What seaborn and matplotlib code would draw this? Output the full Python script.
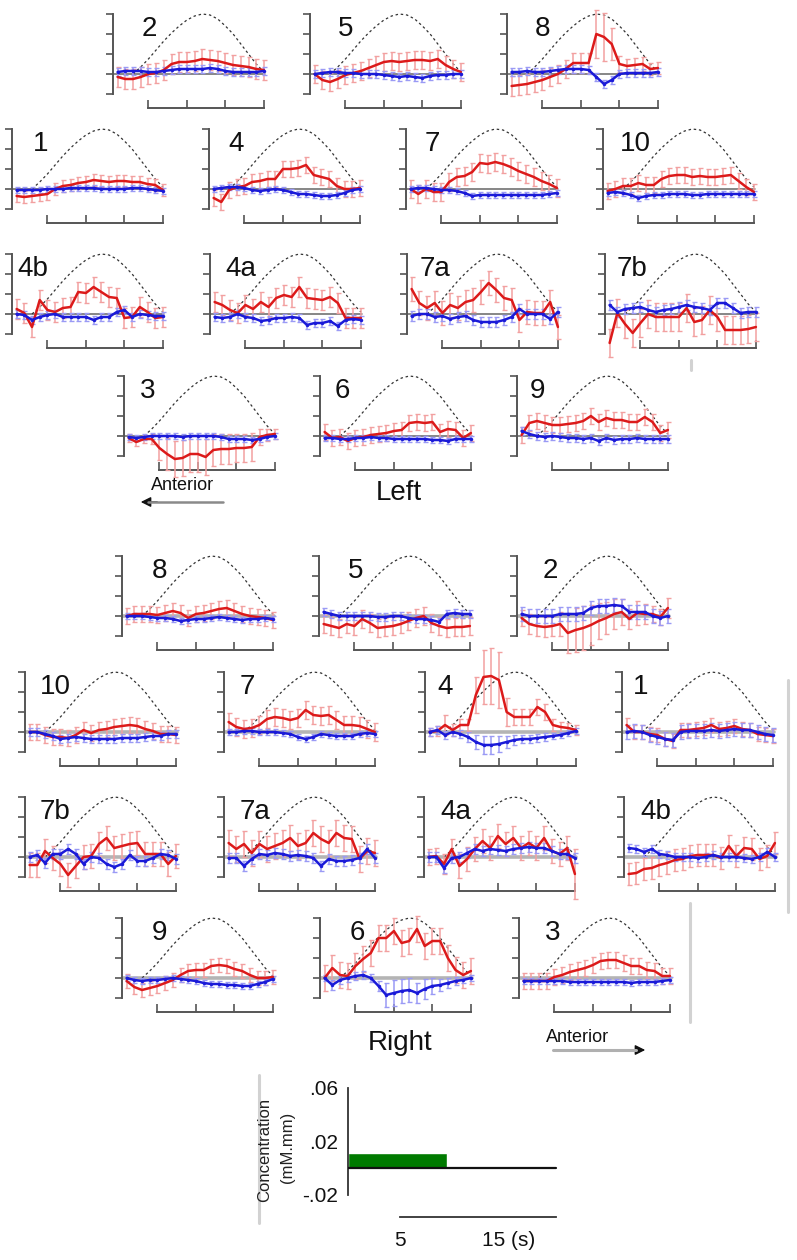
import numpy as np
import matplotlib
matplotlib.use("Agg")
import matplotlib.pyplot as plt
from matplotlib.lines import Line2D
import seaborn as sns

# ---------------- data (values in 0.001 mM.mm) ----------------
t = list(range(1, 21))
dash_t = list(range(3, 21))
dash_v = [0, 7, 15, 24, 33, 41, 48, 54, 58, 60, 59, 55, 48, 40, 30, 20, 10, 2]

# Left hemisphere
red_L2 = [-3, -5, -5, -3, 0, 1, 4, 10, 12, 12, 13, 15, 14, 13, 11, 9, 8, 7, 5, 4]
blue_L2 = [2, 3, 3, 3, 2, 2, 3, 4, 5, 5, 5, 5, 6, 5, 3, 2, 2, 2, 2, 3]
red_L5 = [0, -6, -8, -5, -1, 1, 3, 6, 9, 12, 13, 12, 13, 14, 14, 13, 15, 9, 5, 2]
blue_L5 = [0, 1, 2, 2, 1, 1, 0, 0, 0, -1, -2, -3, -2, -3, -4, -2, -1, -1, 0, 0]
red_L8 = [-12, -11, -10, -8, -6, -3, 0, 5, 11, 11, 11, 40, 37, 30, 10, 8, 9, 10, 5, 6]
blue_L8 = [2, 2, 3, 2, 2, 3, 4, 5, 5, 5, 4, -3, -10, -6, 0, 1, 1, 1, 1, 2]

red_L1 = [-7, -8, -7, -6, -5, 0, 3, 4, 6, 7, 9, 8, 7, 8, 8, 7, 7, 5, 4, -1]
blue_L1 = [-1, -1, -1, -1, 0, 0, 0, 1, 1, 1, 1, 0, 0, 0, 0, 1, 1, 0, -1, -2]
red_L4 = [-9, -13, -1, 2, 3, 7, 8, 10, 10, 20, 20, 21, 24, 14, 12, 10, 3, 0, 0, 1]
blue_L4 = [0, 1, 2, 2, 1, -1, -2, -1, 0, -1, -3, -5, -5, -6, -7, -7, -6, -4, -1, 0]
red_L7 = [0, -5, 0, -3, -3, 7, 12, 13, 17, 26, 25, 27, 25, 22, 18, 15, 12, 8, 5, 1]
blue_L7 = [0, 1, 1, 0, -1, -1, -2, -4, -7, -6, -6, -6, -6, -6, -6, -6, -6, -6, -5, -4]
red_L10 = [-2, 0, 3, 3, 6, 4, 4, 10, 13, 14, 14, 12, 13, 12, 12, 13, 14, 8, 2, -3]
blue_L10 = [-4, -3, -4, -6, -9, -7, -6, -6, -5, -5, -5, -6, -6, -5, -5, -5, -5, -5, -5, -5]

red_L4b = [5, 1, -13, 14, 4, 2, 6, 7, 22, 21, 27, 22, 17, 16, -4, -3, 7, 2, -4, -3]
blue_L4b = [0, -1, -6, -3, -1, 0, -3, -3, -3, -3, -6, -3, -3, 2, 4, -3, 0, -1, -2, -2]
red_L4a = [12, 9, 4, 1, 9, 5, 12, 7, 16, 19, 17, 27, 16, 15, 14, 17, 11, -4, -4, -4]
blue_L4a = [-3, -4, -3, 0, -3, -4, -7, -6, -4, -4, -3, -4, -11, -9, -9, -7, -12, -6, -5, -6]
red_L7a = [25, 11, 6, 11, 1, 9, 6, 12, 14, 22, 31, 24, 16, 14, -6, 2, 1, 1, 12, -13]
blue_L7a = [-2, 0, 0, -3, -2, -5, -3, -2, -6, -8, -8, -8, -6, -3, 5, 0, 0, 0, -5, 2]
red_L7b = [-29, 1, -10, -19, -9, 0, -3, -3, -3, -3, 6, -8, -6, 4, -3, -16, -16, -16, -15, -13]
blue_L7b = [9, 2, 5, 6, 7, 4, 2, 4, 5, 7, 9, 7, 6, 4, 11, 11, 6, 1, 2, 2]

red_L3 = [-2, -6, -3, -3, -12, -18, -23, -22, -18, -18, -21, -14, -13, -13, -12, -12, -11, -1, 1, 2]
blue_L3 = [-1, -2, -1, 0, 0, 0, 0, -1, 0, 0, 0, 0, -1, -3, -3, -3, -4, -3, -1, 0]
red_L6 = [4, -2, -1, -5, -2, -1, 1, 2, 3, 5, 6, 13, 14, 13, 14, 4, 7, 6, -2, 3]
blue_L6 = [-2, -2, -3, -3, -2, -2, -1, -2, -2, -3, -3, -3, -3, -3, -4, -4, -5, -3, -3, -3]
red_L9 = [1, 13, 15, 13, 11, 11, 12, 13, 15, 20, 14, 18, 16, 16, 14, 14, 19, 14, 3, 6]
blue_L9 = [5, 2, 0, -1, 0, -1, -2, -2, -3, -2, -5, -2, -4, -3, -3, -2, -3, -3, -3, -3]

# Right hemisphere
red_R8 = [0, 2, 2, 2, 1, 3, 5, 3, -2, 2, 3, 5, 7, 8, 5, 2, 0, -1, -2, -4]
blue_R8 = [0, 0, 0, -1, -2, -2, -3, -5, -4, -3, -3, -2, -1, -2, -3, -4, -3, -3, -2, -3]
red_R5 = [-8, -10, -12, -8, -10, -3, -7, -12, -11, -10, -8, -5, -2, 0, -7, -10, -12, -11, -11, -10]
blue_R5 = [4, 2, 0, 0, 0, 0, 0, -1, -1, 0, 0, -2, -3, -3, -4, -6, 2, 3, 2, 2]
red_R2 = [-2, -8, -10, -11, -10, -8, -17, -14, -12, -9, -5, -2, 2, 4, -3, 3, 2, 2, -1, 8]
blue_R2 = [2, 0, 0, 0, 0, 2, 2, 2, 3, 8, 10, 10, 11, 10, 4, 4, 4, 0, -2, 0]

red_R10 = [0, 0, -3, -5, -5, -6, -3, 2, -1, 2, 3, 5, 6, 7, 6, 3, 1, -2, -2, -3]
blue_R10 = [0, 0, -2, -4, -7, -6, -5, -6, -7, -7, -7, -7, -6, -6, -6, -5, -4, -4, -2, -2]
red_R7 = [10, 5, 3, 4, 7, 13, 15, 14, 12, 14, 22, 17, 16, 17, 12, 7, 7, 6, 3, 0]
blue_R7 = [0, 0, 1, 1, 0, 0, 0, -1, -2, -5, -7, -5, -2, -3, -4, -4, -4, -2, -1, -2]
red_R4 = [0, 1, 7, 2, 7, 7, 37, 55, 56, 52, 20, 15, 15, 15, 25, 20, 7, 5, 4, 2]
blue_R4 = [0, 2, -3, 0, -2, -5, -10, -13, -13, -12, -10, -8, -7, -7, -6, -5, -4, -3, -1, 1]
red_R1 = [7, 0, 0, -2, -3, -7, -9, 2, 2, 3, 4, 7, 3, 4, 6, 3, 2, -2, -3, -4]
blue_R1 = [0, 1, 0, -3, -5, -7, -8, 0, 1, 1, 1, 2, 1, 2, 3, 2, 2, 0, -2, -3]

red_R7b = [-8, -8, 6, -1, -7, -18, -9, 0, 1, 13, 19, 9, 11, 13, 14, 3, 3, 3, -7, 1]
blue_R7b = [0, 2, -6, 3, 3, 8, 3, -7, 0, -1, -7, -10, -7, 2, -4, -4, -1, 3, 2, -2]
red_R7a = [14, 8, 13, 4, 13, 8, 11, 14, 19, 11, 14, 24, 18, 14, 24, 19, 18, -2, 6, 4]
blue_R7a = [-1, -1, -9, -2, 3, 2, 4, 3, 1, 2, 1, -1, -9, -2, -4, -4, -3, -1, 8, -1]
red_R4a = [0, 1, -7, 8, -9, -2, 8, 16, 9, 21, 13, 19, 9, 14, 9, 19, 6, 3, 9, -17]
blue_R4a = [0, 0, -11, -1, 0, 4, 8, 6, 8, 7, 6, 8, 9, 10, 9, 9, 6, 3, 3, -1]
red_R4b = [-17, -16, -12, -11, -8, -6, -3, -2, 1, 2, 2, 2, -1, 11, 1, 9, 8, -2, 1, 14]
blue_R4b = [9, 8, 5, 8, 3, 2, 0, 0, 0, -1, 0, 2, 0, 0, 0, -1, -2, 0, 5, 0]

red_R9 = [-3, -9, -12, -10, -8, -5, -2, 3, 7, 8, 8, 12, 13, 12, 9, 7, 3, 0, 0, 1]
blue_R9 = [0, -2, -3, -2, -2, -1, 0, -1, -2, -3, -5, -6, -6, -7, -7, -8, -8, -6, -4, -1]
red_R6 = [0, 10, 3, 2, 12, 19, 25, 40, 40, 47, 35, 37, 49, 32, 37, 37, 20, 8, 3, 7]
blue_R6 = [0, -7, -2, 0, 2, 3, 0, -8, -17, -15, -13, -12, -15, -11, -8, -7, -5, -3, -2, 0]
red_R3 = [-3, -3, -3, -3, 1, 3, 6, 8, 10, 13, 17, 18, 18, 15, 12, 12, 8, 7, 2, 2]
blue_R3 = [-3, -3, -3, -3, -3, -3, -4, -4, -4, -4, -4, -4, -4, -4, -5, -4, -4, -4, -3, -2]

# error bar half-widths (0.001 mM.mm)
err_red_L8 = [10, 10, 10, 10, 10, 9, 9, 9, 10, 10, 10, 24, 24, 16, 8, 7, 7, 7, 6, 6]
err_red_L3 = [4, 4, 4, 5, 12, 16, 18, 18, 18, 18, 18, 16, 15, 15, 14, 14, 14, 8, 6, 5]
err_red_R2 = [8, 10, 10, 10, 10, 12, 20, 22, 22, 20, 18, 16, 15, 13, 10, 12, 10, 8, 8, 10]
err_red_R4 = [4, 5, 10, 6, 6, 6, 18, 27, 28, 28, 14, 8, 8, 8, 8, 8, 6, 5, 5, 5]
err_red_R4a = [8, 8, 10, 10, 12, 12, 12, 12, 12, 12, 12, 12, 12, 12, 12, 12, 12, 12, 12, 25]
err_blue_R6 = [3, 5, 4, 4, 4, 4, 4, 5, 12, 13, 12, 12, 10, 10, 8, 6, 5, 4, 3, 3]
err_blue_R4 = [4, 4, 4, 4, 4, 5, 7, 9, 9, 8, 6, 5, 4, 4, 4, 4, 3, 3, 3, 3]

stim_start, stim_end, stim_height = 0.0, 9.5, 0.011
scale_yticks = [-0.02, 0.0, 0.02, 0.04, 0.06]
scale_ylabels = ['-.02', '', '.02', '', '.06']

# ---------------- layout (pixels) ----------------
# (label, spine_x, zero_y, label_x, red, blue, red_err, blue_err, side)
panels = [
    ("2", 113, 74, 142, red_L2, blue_L2, 10, 4, "L"),
    ("5", 310, 74, 338, red_L5, blue_L5, 9, 4, "L"),
    ("8", 507, 74, 535, red_L8, blue_L8, err_red_L8, 4, "L"),
    ("1", 12, 189, 33, red_L1, blue_L1, 6, 3, "L"),
    ("4", 209, 189, 228, red_L4, blue_L4, 8, 3, "L"),
    ("7", 406, 189, 425, red_L7, blue_L7, 9, 3, "L"),
    ("10", 603, 189, 620, red_L10, blue_L10, 8, 3, "L"),
    ("4b", 12, 314, 17, red_L4b, blue_L4b, 10, 4, "L"),
    ("4a", 210, 314, 225, red_L4a, blue_L4a, 10, 4, "L"),
    ("7a", 407, 314, 420, red_L7a, blue_L7a, 12, 5, "L"),
    ("7b", 605, 314, 617, red_L7b, blue_L7b, 14, 5, "L"),
    ("3", 124, 436, 140, red_L3, blue_L3, err_red_L3, 3, "L"),
    ("6", 320, 436, 335, red_L6, blue_L6, 8, 3, "L"),
    ("9", 517, 436, 530, red_L9, blue_L9, 8, 4, "L"),
    ("8", 122, 616, 152, red_R8, blue_R8, 8, 3, "R"),
    ("5", 319, 616, 348, red_R5, blue_R5, 9, 4, "R"),
    ("2", 517, 616, 543, red_R2, blue_R2, err_red_R2, 7, "R"),
    ("10", 25, 732, 40, red_R10, blue_R10, 8, 4, "R"),
    ("7", 224, 732, 240, red_R7, blue_R7, 9, 3, "R"),
    ("4", 425, 732, 437, red_R4, blue_R4, err_red_R4, err_blue_R4, "R"),
    ("1", 622, 732, 633, red_R1, blue_R1, 7, 7, "R"),
    ("7b", 25, 857, 40, red_R7b, blue_R7b, 12, 5, "R"),
    ("7a", 224, 857, 240, red_R7a, blue_R7a, 13, 5, "R"),
    ("4a", 424, 857, 440, red_R4a, blue_R4a, err_red_R4a, 5, "R"),
    ("4b", 624, 857, 640, red_R4b, blue_R4b, 11, 4, "R"),
    ("9", 122, 978, 152, red_R9, blue_R9, 7, 3, "R"),
    ("6", 320, 978, 350, red_R6, blue_R6, 13, err_blue_R6, "R"),
    ("3", 519, 978, 545, red_R3, blue_R3, 8, 3, "R"),
]

W, H = 797, 1260
sns.set_theme(style="white")
plt.rcParams['font.family'] = ['Liberation Sans', 'DejaVu Sans']

fig = plt.figure(figsize=(W / 100, H / 100), dpi=100)

PX_S = 7.7      # pixels per second
PX_U = 1000.0   # pixels per mM.mm
T0, T1 = 0.4, 21.0
YB, YT = -0.05, 0.09
SPINE_C = "#555555"
RED, RED_E = "#dc1a1a", "#f2a0a0"
BLUE, BLUE_E = "#1a1ad8", "#9a9af5"


def add_ax_px(x0, y0, w, h):
    return fig.add_axes([x0 / W, 1 - (y0 + h) / H, w / W, h / H])


def fx(px):
    return px / W


def fy(py):
    return 1 - py / H


for (lab, sx, zy, lx, red, blue, rerr, berr, side) in panels:
    w = (T1 - T0) * PX_S
    top = zy - YT * PX_U
    h = (YT - YB) * PX_U
    ax = add_ax_px(sx, top, w, h)
    ax.set_xlim(T0, T1)
    ax.set_ylim(YB, YT)
    ax.patch.set_visible(False)
    for s in ("top", "right"):
        ax.spines[s].set_visible(False)
    ax.spines["left"].set_bounds(-0.02, 0.06)
    ax.spines["left"].set_color(SPINE_C)
    ax.spines["left"].set_linewidth(1.4)
    ax.spines["bottom"].set_position(("data", -0.034))
    ax.spines["bottom"].set_bounds(5, 20)
    ax.spines["bottom"].set_color(SPINE_C)
    ax.spines["bottom"].set_linewidth(1.4)
    ax.set_yticks([-0.02, 0, 0.02, 0.04, 0.06])
    ax.set_xticks([5, 10, 15, 20])
    ax.tick_params(axis="y", direction="out", length=5, width=1.2, color=SPINE_C,
                   labelleft=False, left=True)
    ax.tick_params(axis="x", direction="in", length=6, width=1.2, color=SPINE_C,
                   labelbottom=False, bottom=True)
    ax.grid(False)

    if side == "L":
        ax.plot([T0, 20.2], [0, 0], color="#666666", lw=1.1, zorder=1)
    else:
        ax.plot([T0, 20.2], [0, 0], color="#b4b4b4", lw=2.6, zorder=1)

    ax.plot(dash_t, np.array(dash_v) * 1e-3, color="#333333", lw=0.9,
            ls=(0, (2.0, 2.2)), zorder=2)

    r = np.array(red) * 1e-3
    b = np.array(blue) * 1e-3
    re = np.array(rerr, dtype=float) * 1e-3 * np.ones(len(t))
    be = np.array(berr, dtype=float) * 1e-3 * np.ones(len(t))
    ax.errorbar(t, r, yerr=re, fmt="none", ecolor=RED_E, elinewidth=1.1,
                capsize=1.8, capthick=1.0, zorder=3)
    ax.errorbar(t, b, yerr=be, fmt="none", ecolor=BLUE_E, elinewidth=1.1,
                capsize=1.8, capthick=1.0, zorder=3)
    sns.lineplot(x=t, y=r, ax=ax, color=RED, linewidth=1.8, legend=False, zorder=4)
    sns.lineplot(x=t, y=b, ax=ax, color=BLUE, linewidth=1.8, marker="o",
                 markersize=2.5, markeredgewidth=0, legend=False, zorder=5)
    ax.set_xlabel("")
    ax.set_ylabel("")

    fig.text(fx(lx), fy(zy - 58), lab, fontsize=20, ha="left", va="top",
             color="#111111")

# ---------------- section texts and arrows ----------------
fig.text(fx(399), fy(493), "Left", fontsize=20, ha="center", va="center", color="#111111")
fig.text(fx(400), fy(1043), "Right", fontsize=20, ha="center", va="center", color="#111111")

fig.text(fx(183), fy(486), "Anterior", fontsize=13, ha="center", va="center", color="#111111")
fig.text(fx(578), fy(1038), "Anterior", fontsize=13, ha="center", va="center", color="#111111")

# left arrow (points left)
fig.add_artist(Line2D([fx(148), fx(223)], [fy(502), fy(502)], transform=fig.transFigure,
                      color="#8a8a8a", lw=1.8))
fig.add_artist(matplotlib.patches.FancyArrowPatch(
    (fx(160), fy(502)), (fx(138), fy(502)), transform=fig.transFigure,
    arrowstyle="-|>,head_length=4,head_width=2", mutation_scale=1.5, color="#111111", lw=1.0))
# right arrow (points right)
fig.add_artist(Line2D([fx(553), fx(636)], [fy(1050), fy(1050)], transform=fig.transFigure,
                      color="#b0b0b0", lw=2.2))
fig.add_artist(matplotlib.patches.FancyArrowPatch(
    (fx(625), fy(1050)), (fx(648), fy(1050)), transform=fig.transFigure,
    arrowstyle="-|>,head_length=4,head_width=2", mutation_scale=1.5, color="#111111", lw=1.0))

# faint scan artifacts (grey vertical rules)
for (x, y0, y1) in [(788, 680, 912), (690, 903, 1022), (691, 360, 370), (259, 1075, 1223)]:
    fig.add_artist(Line2D([fx(x), fx(x)], [fy(y0), fy(y1)],
                          transform=fig.transFigure, color="#d2d2d2", lw=2.2, zorder=0))

# ---------------- scale panel ----------------
SX, SZ = 348, 1168
S_PX_S, S_PX_U = 10.4, 1336.0
sx0, sx1 = 0.0, 21.0
sy0, sy1 = -0.06, 0.066
sax = add_ax_px(SX, SZ - sy1 * S_PX_U, (sx1 - sx0) * S_PX_S, (sy1 - sy0) * S_PX_U)
sax.set_xlim(sx0, sx1)
sax.set_ylim(sy0, sy1)
sax.patch.set_visible(False)
for s in ("top", "right"):
    sax.spines[s].set_visible(False)
sax.spines["left"].set_bounds(-0.02, 0.06)
sax.spines["left"].set_color("#333333")
sax.spines["left"].set_linewidth(1.3)
sax.spines["bottom"].set_position(("data", -0.0367))
sax.spines["bottom"].set_bounds(5, 20)
sax.spines["bottom"].set_color("#333333")
sax.spines["bottom"].set_linewidth(1.3)
sax.set_yticks(scale_yticks)
sax.set_yticklabels(scale_ylabels)
sax.set_xticks([5, 10, 15, 20])
sax.tick_params(axis="y", direction="out", length=6, width=1.2, color="#333333",
                labelsize=15, pad=1, labelcolor="#111111")
sax.tick_params(axis="x", direction="in", length=7, width=1.2, color="#333333",
                labelbottom=False)
sax.grid(False)
sax.bar([stim_start], [stim_height], width=stim_end - stim_start, align="edge",
        color="#007a00", zorder=2)
sax.plot([0, 20], [0, 0], color="#111111", lw=1.6, zorder=3)
sax.text(5, -0.054, "5", fontsize=15, ha="center", va="center", color="#111111")
sax.text(12.9, -0.054, "15 (s)", fontsize=15, ha="left", va="center", color="#111111")

fig.text(fx(265), fy(1150), "Concentration", rotation=90, fontsize=12,
         ha="center", va="center", color="#222222")
fig.text(fx(288), fy(1147), "(mM.mm)", rotation=90, fontsize=12,
         ha="center", va="center", color="#222222")

fig.savefig("out.png", dpi=100, facecolor="white")
